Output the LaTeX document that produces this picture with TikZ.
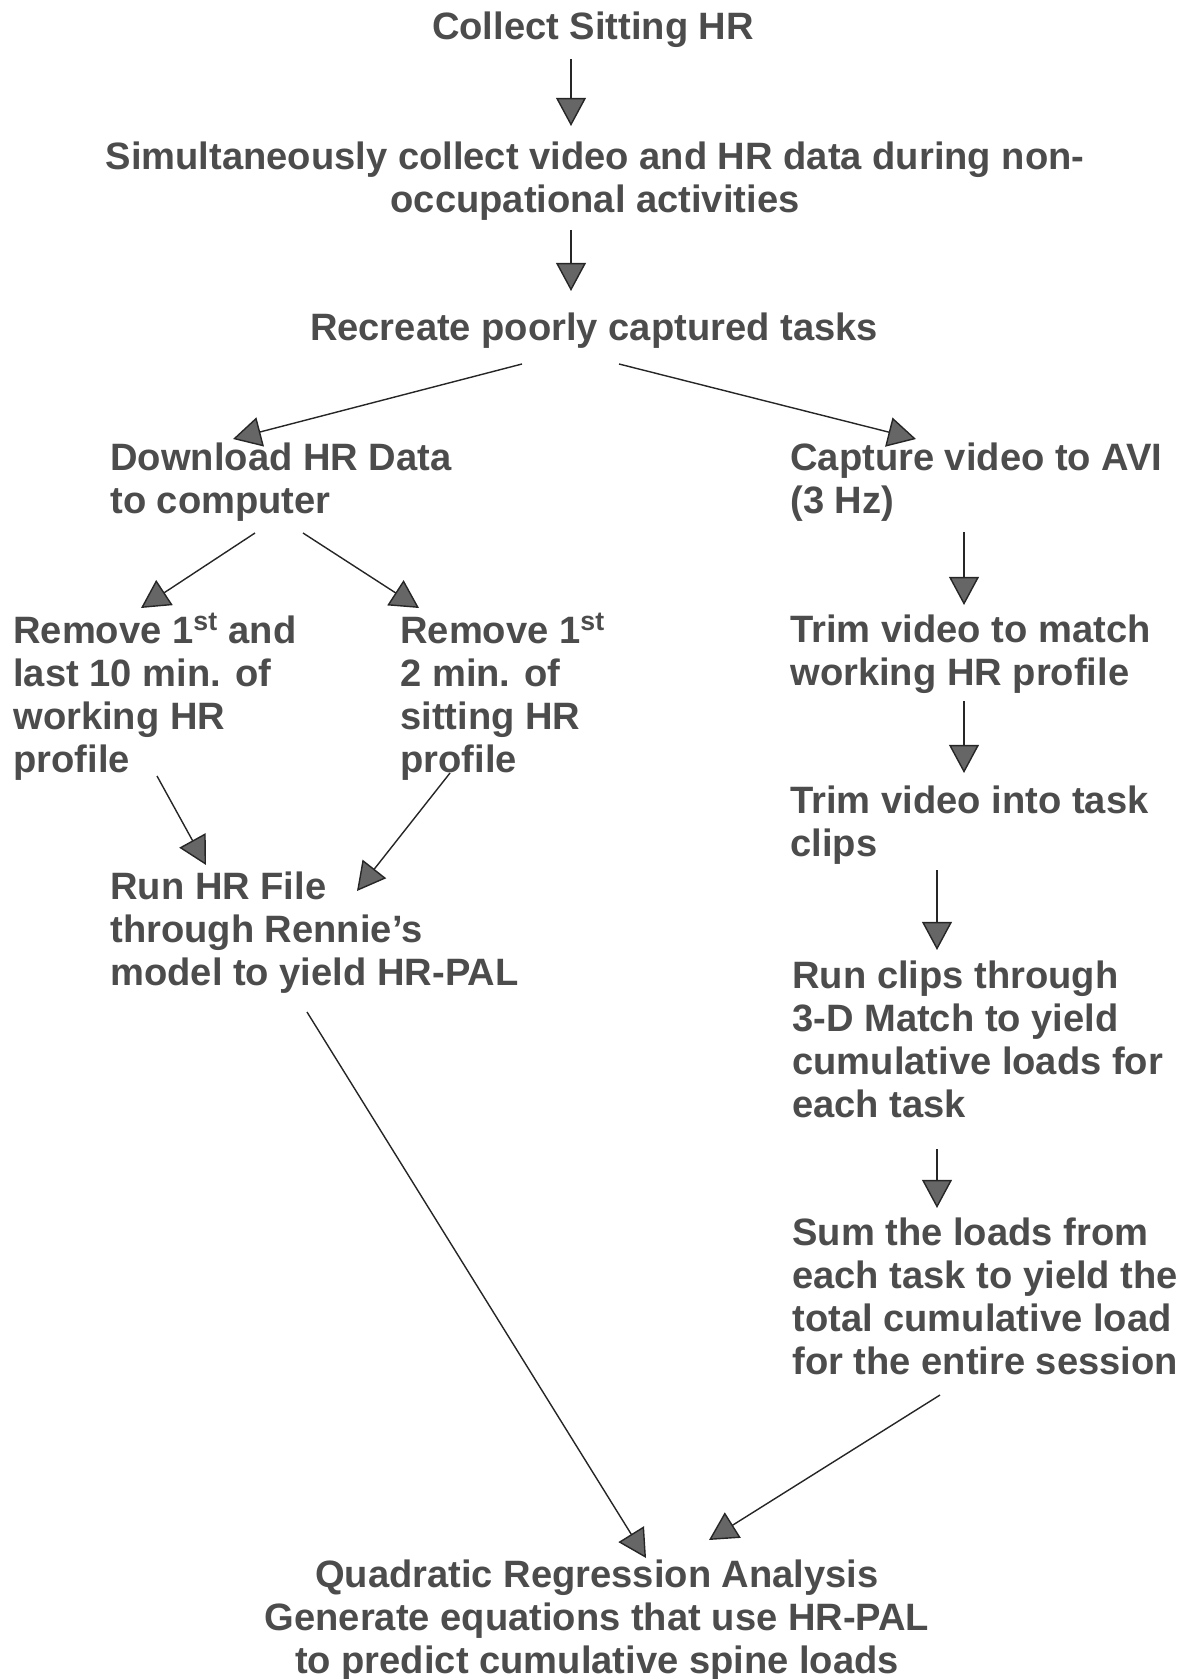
\documentclass[tikz,border=0pt]{standalone}
\usepackage{fontspec}
\setmainfont{Liberation Sans}
\usetikzlibrary{calc, arrows.meta}

\begin{document}
\begin{tikzpicture}[x=0.02cm, y=-0.02cm,
  every node/.style={inner sep=0pt, text=black!70, font=\fontsize{21.7pt}{24.5pt}\selectfont\bfseries},
  leftbox/.style={align=left, anchor=west},
  midbox/.style={align=center},
  flow/.style={-{Triangle[length=16pt, width=17pt, fill=black!60]}, draw=black!85, line width=0.8pt}]
  \useasboundingbox (0,0) rectangle (1191,1679);

  \node[midbox] (sit) at (593,30) {Collect Sitting HR};
  \node[midbox] (sim) at (595,181) {Simultaneously collect video and HR data during non-\\occupational activities};
  \node[midbox] (rec) at (594,331) {Recreate poorly captured tasks};
  \node[leftbox] (dl) at (110,482) {Download HR Data\\to computer};
  \node[leftbox] (cap) at (790,482) {Capture video to AVI\\(3 Hz)};
  \node[leftbox] (rma) at (13,697) {Remove 1\textsuperscript{st} and\\last 10 min. of\\working HR\\profile};
  \node[leftbox] (rmb) at (400,697) {Remove 1\textsuperscript{st}\\2 min. of\\sitting HR\\profile};
  \node[leftbox] (trm) at (790,654) {Trim video to match\\working HR profile};
  \node[leftbox] (tri) at (790,825) {Trim video into task\\clips};
  \node[leftbox] (run) at (110,933) {Run HR File\\through Rennie's\\model to yield HR-PAL};
  \node[leftbox] (rcl) at (792,1039) {Run clips through\\3-D Match to yield\\cumulative loads for\\each task};
  \node[leftbox] (sum) at (792,1296) {Sum the loads from\\each task to yield the\\total cumulative load\\for the entire session};
  \node[midbox] (qra) at (597,1621) {Quadratic Regression Analysis\\Generate equations that use HR-PAL\\to predict cumulative spine loads};

  \draw[flow] ($(sit)+(-22,29)$) -- ($(sim)+(-24,-55)$);
  \draw[flow] ($(sim)+(-24,49)$) -- ($(rec)+(-23,-40)$);
  \draw[flow] ($(rec)+(-72,33)$) -- ($(dl.west)+(123,-43)$);
  \draw[flow] ($(rec)+(25,33)$) -- ($(cap.west)+(126,-43)$);
  \draw[flow] ($(dl.west)+(145,51)$) -- ($(rma.west)+(128,-89)$);
  \draw[flow] ($(dl.west)+(193,51)$) -- ($(rmb.west)+(19,-89)$);
  \draw[flow] ($(cap.west)+(174,50)$) -- ($(trm.west)+(174,-49)$);
  \draw[flow] ($(trm.west)+(174,47)$) -- ($(tri.west)+(174,-52)$);
  \draw[flow] ($(tri.west)+(147,45)$) -- ($(rcl.west)+(145,-89)$);
  \draw[flow] ($(rcl.west)+(145,110)$) -- ($(sum.west)+(145,-88)$);
  \draw[flow] ($(rma.west)+(144,79)$) -- ($(run.west)+(96,-68)$);
  \draw[flow] ($(rmb.west)+(50,76)$) -- ($(run.west)+(247,-42)$);
  \draw[flow] ($(run.west)+(197,79)$) -- ($(qra)+(49,-63)$);
  \draw[flow] ($(sum.west)+(148,99)$) -- ($(qra)+(112,-81)$);
\end{tikzpicture}
\end{document}
